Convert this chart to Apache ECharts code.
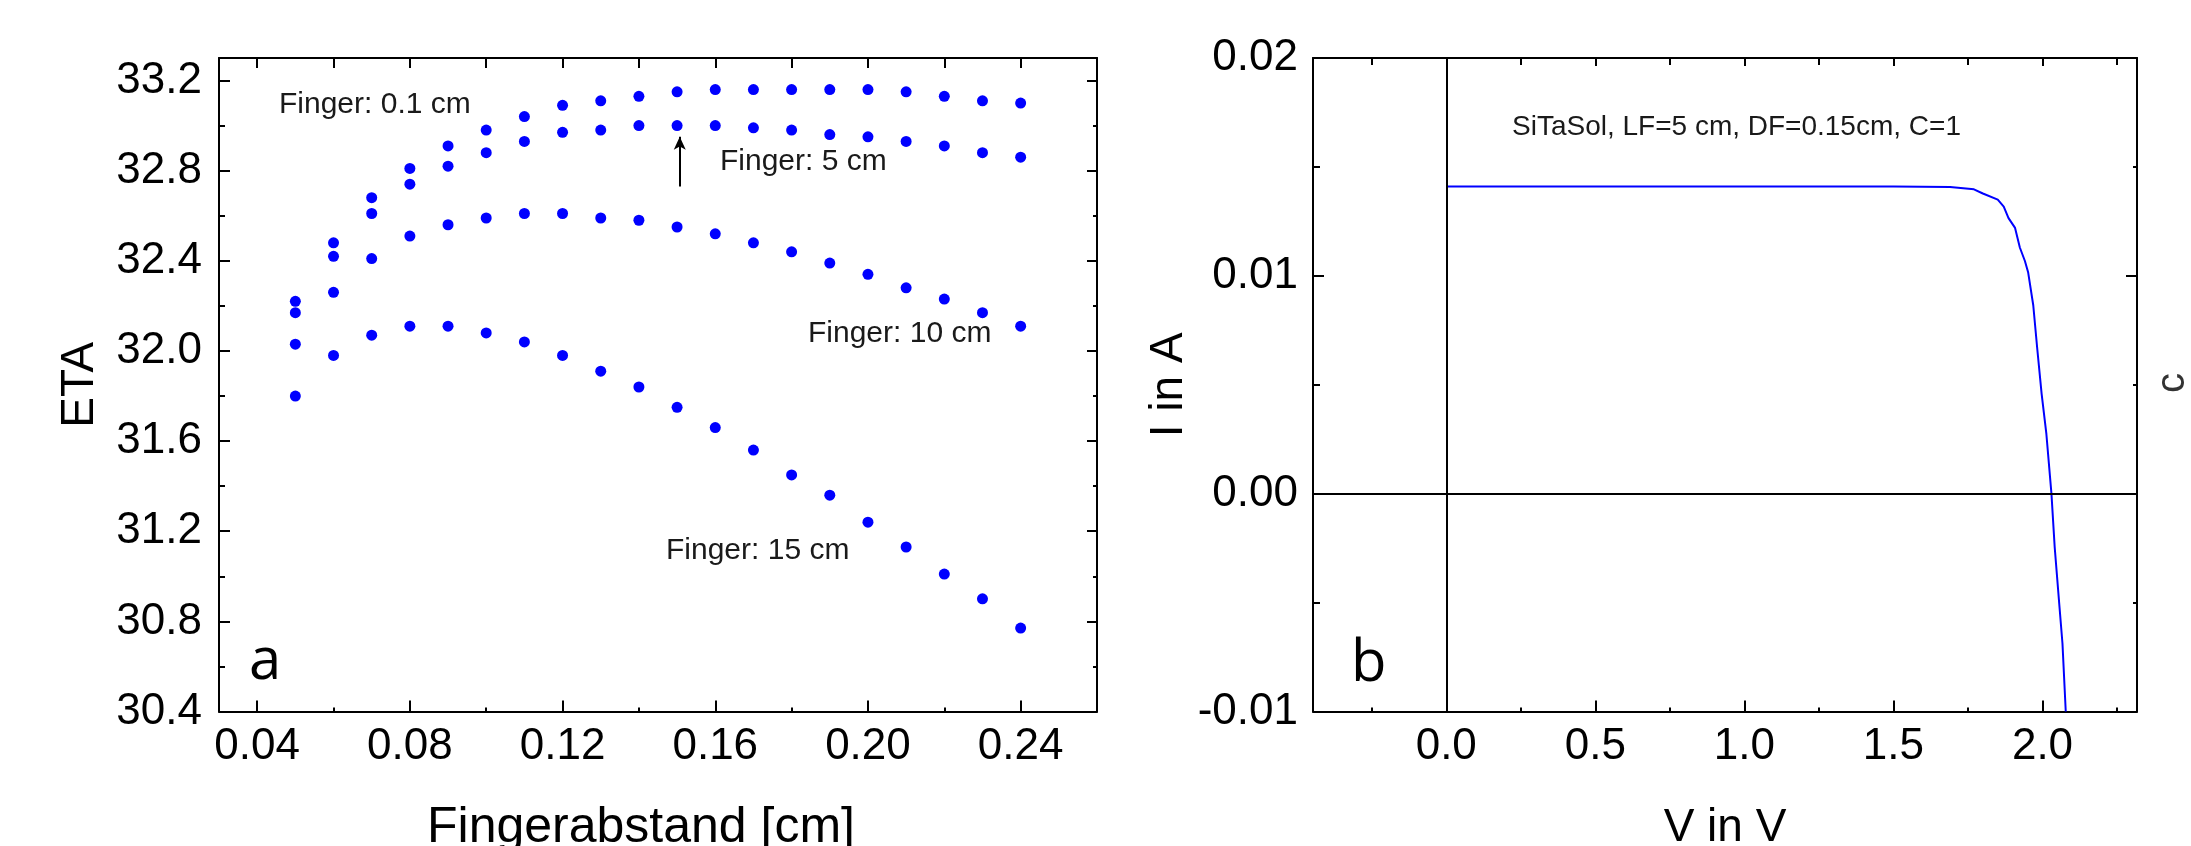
<!DOCTYPE html>
<html>
<head>
<meta charset="utf-8">
<title>ETA vs Fingerabstand / I-V</title>
<script src="https://cdn.jsdelivr.net/npm/echarts@6/dist/echarts.min.js"></script>
<style>
html, body { margin: 0; padding: 0; background: #fff; }
#chart { width: 2191px; height: 846px; }
</style>
</head>
<body>
<div id="chart"></div>
<script>
// ---- panel a: ETA over finger spacing, one series per finger length
const spacing = [0.05, 0.06, 0.07, 0.08, 0.09, 0.10, 0.11, 0.12, 0.13, 0.14,
                 0.15, 0.16, 0.17, 0.18, 0.19, 0.20, 0.21, 0.22, 0.23, 0.24];
const etaF01 = [32.22, 32.48, 32.68, 32.81, 32.91, 32.98, 33.04, 33.09, 33.11, 33.13,
                33.15, 33.16, 33.16, 33.16, 33.16, 33.16, 33.15, 33.13, 33.11, 33.10];
const etaF5  = [32.17, 32.42, 32.61, 32.74, 32.82, 32.88, 32.93, 32.97, 32.98, 33.00,
                33.00, 33.00, 32.99, 32.98, 32.96, 32.95, 32.93, 32.91, 32.88, 32.86];
const etaF10 = [32.03, 32.26, 32.41, 32.51, 32.56, 32.59, 32.61, 32.61, 32.59, 32.58,
                32.55, 32.52, 32.48, 32.44, 32.39, 32.34, 32.28, 32.23, 32.17, 32.11];
const etaF15 = [31.80, 31.98, 32.07, 32.11, 32.11, 32.08, 32.04, 31.98, 31.91, 31.84,
                31.75, 31.66, 31.56, 31.45, 31.36, 31.24, 31.13, 31.01, 30.90, 30.77];
const arrowA = [[0.1507, 32.73], [0.1507, 32.95]];

const xMajorA = [0.04, 0.08, 0.12, 0.16, 0.20, 0.24];
const xMinorA = [0.06, 0.10, 0.14, 0.18, 0.22];
const yMajorA = [30.4, 30.8, 31.2, 31.6, 32.0, 32.4, 32.8, 33.2];
const yMinorA = [30.6, 31.0, 31.4, 31.8, 32.2, 32.6, 33.0];

// ---- panel b: I-V curve
const voltage = [0, 0.5, 1.0, 1.5, 1.69, 1.77, 1.80, 1.85, 1.87, 1.886, 1.908, 1.924,
                 1.941, 1.952, 1.969, 1.982, 1.997, 2.013, 2.030, 2.041, 2.056, 2.067, 2.078];
const current = [0.0141, 0.0141, 0.0141, 0.0141, 0.01408, 0.01397, 0.01378, 0.0135, 0.01318,
                 0.01265, 0.0122, 0.0113, 0.01068, 0.01015, 0.00865, 0.00671, 0.00459,
                 0.00274, 0.0, -0.00247, -0.00503, -0.00688, -0.0100];

const xMajorB = [0, 0.5, 1.0, 1.5, 2.0];
const xMinorB = [-0.25, 0.25, 0.75, 1.25, 1.75, 2.25];
const yMajorB = [-0.01, 0, 0.01, 0.02];
const yMinorB = [-0.005, 0.005, 0.015];

const FONT = 'Liberation Sans, Arial, sans-serif';
const black = { color: '#000', width: 2 };

// builds the 4 axes of one frame: main side (labels + major), main minor, opposite major, opposite minor
function frameAxes(kind, grid, min, max, major, minor, o) {
    const pos = kind === 'x' ? ['bottom', 'top'] : ['left', 'right'];
    const base = {
        type: 'value', gridIndex: grid, min: min, max: max,
        splitLine: { show: false },
        axisLine: { show: false, onZero: false },
        axisLabel: { show: false },
        axisTick: { show: false }
    };
    const tick = (vals, len) => ({ show: true, inside: true, length: len, customValues: vals, lineStyle: black });
    return [
        Object.assign({}, base, {
            position: pos[0],
            name: o.name, nameLocation: 'middle', nameGap: o.nameGap,
            nameTextStyle: Object.assign({ fontFamily: FONT, fontSize: 46, color: '#000' }, o.nameStyle || {}),
            axisLine: { show: true, onZero: false, lineStyle: black },
            axisTick: tick(major, 11),
            axisLabel: {
                show: true, customValues: major, margin: o.margin,
                fontFamily: FONT, fontSize: 44, color: '#000',
                formatter: v => v.toFixed(o.digits)
            }
        }),
        Object.assign({}, base, { position: pos[0], axisTick: tick(minor, o.minorLen) }),
        Object.assign({}, base, {
            position: pos[1],
            axisLine: { show: true, onZero: false, lineStyle: black },
            axisTick: tick(major, o.oppMajor)
        }),
        Object.assign({}, base, { position: pos[1], axisTick: tick(minor, o.oppMinor) })
    ];
}

const xAxes = [].concat(
    frameAxes('x', 0, 0.03, 0.26, xMajorA, xMinorA, {
        name: 'Fingerabstand [cm]', nameGap: 92, margin: 13, digits: 2,
        minorLen: 4, oppMajor: 10, oppMinor: 10,
        nameStyle: { fontSize: 50, padding: [0, 34, 0, 0] }
    }),
    frameAxes('x', 1, -0.447, 2.317, xMajorB, xMinorB, {
        name: 'V in V', nameGap: 94, margin: 13, digits: 1,
        minorLen: 4, oppMajor: 8, oppMinor: 7
    })
);
const yAxes = [].concat(
    frameAxes('y', 0, 30.4, 33.3, yMajorA, yMinorA, {
        name: 'ETA', nameGap: 116, margin: 17, digits: 1,
        minorLen: 6, oppMajor: 10, oppMinor: 4
    }),
    frameAxes('y', 1, -0.01, 0.02, yMajorB, yMinorB, {
        name: 'I in A', nameGap: 121, margin: 15, digits: 2,
        minorLen: 7, oppMajor: 11, oppMinor: 4
    })
);

const dot = (name, vals) => ({
    name: name, type: 'scatter', xAxisIndex: 0, yAxisIndex: 0,
    symbol: 'circle', symbolSize: 11,
    itemStyle: { color: '#0000ff', opacity: 1 },
    data: spacing.map((x, i) => [x, vals[i]])
});

const seriesF5 = dot('Finger: 5 cm', etaF5);
seriesF5.markLine = {
    silent: true, symbol: ['none', 'arrow'], symbolSize: [9, 13],
    lineStyle: { color: '#000', width: 2, type: 'solid' },
    label: { show: false },
    data: [[{ coord: arrowA[0] }, { coord: arrowA[1] }]]
};

const txt = (text, x, y, size, extra) => ({
    type: 'text', x: x, y: y, silent: true,
    style: Object.assign({ text: text, fontFamily: FONT, fontSize: size, fill: '#1a1a1a', align: 'left', verticalAlign: 'middle' }, extra || {})
});

let chart = echarts.init(document.getElementById('chart'));
chart.setOption({
    animation: false,
    backgroundColor: '#fff',
    grid: [
        { left: 219, top: 58, width: 878, height: 653.5, outerBoundsMode: 'none' },
        { left: 1313, top: 58, width: 824, height: 653.5, outerBoundsMode: 'none' }
    ],
    xAxis: xAxes,
    yAxis: yAxes,
    series: [
        dot('Finger: 0.1 cm', etaF01),
        seriesF5,
        dot('Finger: 10 cm', etaF10),
        dot('Finger: 15 cm', etaF15),
        {
            name: 'IV', type: 'line', xAxisIndex: 4, yAxisIndex: 4,
            showSymbol: false, clip: true,
            lineStyle: { color: '#0000ff', width: 2 },
            data: voltage.map((v, i) => [v, current[i]]),
            markLine: {
                silent: true, symbol: 'none',
                lineStyle: { color: '#000', width: 2, type: 'solid' },
                label: { show: false },
                data: [{ xAxis: 0 }, { yAxis: 0 }]
            }
        }
    ],
    graphic: [
        txt('Finger: 0.1 cm', 279, 105, 30),
        txt('Finger: 5 cm', 720, 162, 30),
        txt('Finger: 10 cm', 808, 334, 30),
        txt('Finger: 15 cm', 666, 551, 30),
        txt('SiTaSol, LF=5 cm, DF=0.15cm, C=1', 1512, 127, 28),
        txt('a', 249, 662, 58, { fontFamily: 'Open Sans, sans-serif', fill: '#000' }),
        txt('b', 1351, 664, 58, { fontFamily: 'Open Sans, sans-serif', fill: '#000' }),
        {
            type: 'text', x: 2173, y: 383, rotation: Math.PI / 2, silent: true,
            style: { text: 'c', fontFamily: FONT, fontSize: 40, fill: '#333', align: 'center', verticalAlign: 'middle' }
        }
    ]
});
</script>
</body>
</html>
